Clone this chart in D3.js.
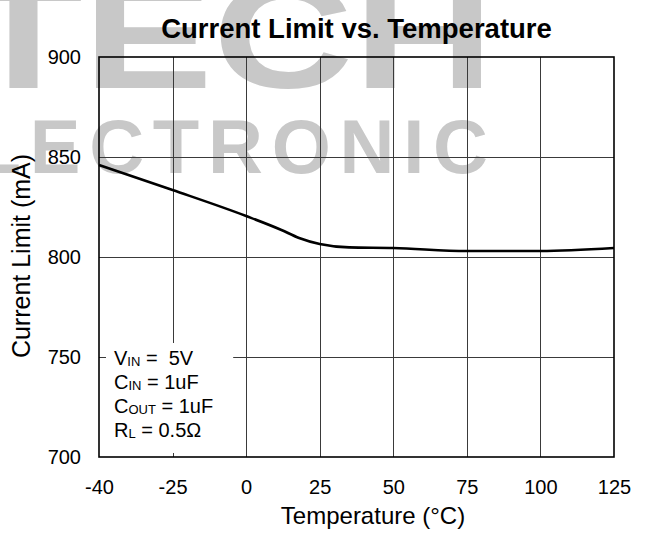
<!DOCTYPE html>
<html>
<head>
<meta charset="utf-8">
<script src="https://cdn.jsdelivr.net/npm/d3@7/dist/d3.min.js"></script>
<style>
  html, body { margin: 0; padding: 0; background: #fff; }
  svg { display: block; font-family: "Liberation Sans", Arial, sans-serif; }
</style>
</head>
<body>
<svg id="chart" width="652" height="534"></svg>
<script>
// ---- data ----
const chartTitle = "Current Limit vs. Temperature";
const xLabel = "Temperature (°C)";
const yLabel = "Current Limit (mA)";
const xTicks = [-40, -25, 0, 25, 50, 75, 100, 125];
const yTicks = [700, 750, 800, 850, 900];
const temps = [-40, -25, 0, 12, 18, 25, 35, 50, 75, 100, 125];
const currentMA = [846, 833.5, 820.5, 813.5, 809.5, 806.5, 804.8, 804.5, 803, 803, 804.5];
const conditions = [
  ["V", "IN", " =\u00a0 5V"],
  ["C", "IN", " = 1uF"],
  ["C", "OUT", " = 1uF"],
  ["R", "L", " = 0.5Ω"]
];
const watermarkTop = "TECH";
const watermarkBottom = "ELECTRONIC";

// ---- layout ----
const W = 652, H = 534;
const m = { left: 99, right: 38, top: 57, bottom: 77 };
const pw = W - m.left - m.right, ph = H - m.top - m.bottom;
const svg = d3.select("#chart");

// watermark (background logo text)
const wm = svg.append("g").attr("fill", "#c8c8c8").attr("font-weight", "bold");
wm.append("text").attr("x", -36).attr("y", 88).attr("font-size", 150)
  .attr("textLength", 530).attr("lengthAdjust", "spacingAndGlyphs").text(watermarkTop);
wm.append("text").attr("x", -85).attr("y", 173).attr("font-size", 76)
  .attr("textLength", 573).attr("lengthAdjust", "spacing").text(watermarkBottom);

// scales
const x = d3.scaleLinear()
  .domain(xTicks)
  .range(xTicks.map((d, i) => m.left + i * pw / (xTicks.length - 1)));
const y = d3.scaleLinear().domain([700, 900]).range([m.top + ph, m.top]);

// grid
const grid = svg.append("g").attr("stroke", "#3a3a3a").attr("stroke-width", 1);
grid.selectAll("line.v").data(xTicks.slice(1, -1)).join("line")
  .attr("x1", d => Math.round(x(d)) + 0.5).attr("x2", d => Math.round(x(d)) + 0.5)
  .attr("y1", m.top).attr("y2", m.top + ph);
grid.selectAll("line.h").data(yTicks.slice(1, -1)).join("line")
  .attr("y1", d => Math.round(y(d)) + 0.5).attr("y2", d => Math.round(y(d)) + 0.5)
  .attr("x1", m.left).attr("x2", m.left + pw);

// conditions box
const lg = svg.append("g");
const lgRect = lg.append("rect").attr("fill", "#fff");
const lgText = lg.append("g").attr("font-size", 20).attr("fill", "#000");
conditions.forEach((c, i) => {
  const t = lgText.append("text").attr("x", m.left + 15).attr("y", y(750) + 8 + i * 24);
  t.append("tspan").text(c[0]);
  t.append("tspan").attr("font-size", 13).attr("dy", 1).text(c[1]);
  t.append("tspan").attr("dy", -1).text(c[2]);
});
const bb = lgText.node().getBBox();
lgRect.attr("x", m.left + 7).attr("y", bb.y - 4)
  .attr("width", bb.x + bb.width + 20 - (m.left + 7))
  .attr("height", (m.top + ph - 4) - (bb.y - 4));

// border
svg.append("rect").attr("x", m.left).attr("y", m.top).attr("width", pw).attr("height", ph)
  .attr("fill", "none").attr("stroke", "#000").attr("stroke-width", 1.6);

// curve
const line = d3.line().x((d, i) => x(temps[i])).y(d => y(d)).curve(d3.curveMonotoneX);
svg.append("path").datum(currentMA).attr("d", line)
  .attr("fill", "none").attr("stroke", "#000").attr("stroke-width", 2.6);

// x axis labels
const xa = svg.append("g").attr("transform", `translate(0,${m.top + ph})`)
  .call(d3.axisBottom(x).tickValues(xTicks).tickSize(0).tickPadding(23).tickFormat(d => String(d)));
xa.select(".domain").remove();
xa.selectAll("text").attr("font-size", 20).attr("fill", "#000")
  .attr("font-family", "Liberation Sans, Arial, sans-serif");

// y axis labels
const ya = svg.append("g").attr("transform", `translate(${m.left},0)`)
  .call(d3.axisLeft(y).tickValues(yTicks).tickSize(0).tickPadding(18).tickFormat(d => String(d)));
ya.select(".domain").remove();
ya.selectAll("text").attr("font-size", 20).attr("fill", "#000")
  .attr("font-family", "Liberation Sans, Arial, sans-serif");

// titles
svg.append("text").attr("x", m.left + pw / 2).attr("y", 38).attr("text-anchor", "middle")
  .attr("font-size", 27.5).attr("font-weight", "bold").text(chartTitle);
svg.append("text").attr("x", 373).attr("y", 524).attr("text-anchor", "middle")
  .attr("font-size", 24).text(xLabel);
svg.append("text").attr("transform", `translate(30,${m.top + ph / 2 - 1}) rotate(-90)`)
  .attr("text-anchor", "middle").attr("font-size", 25).text(yLabel);
</script>
</body>
</html>
